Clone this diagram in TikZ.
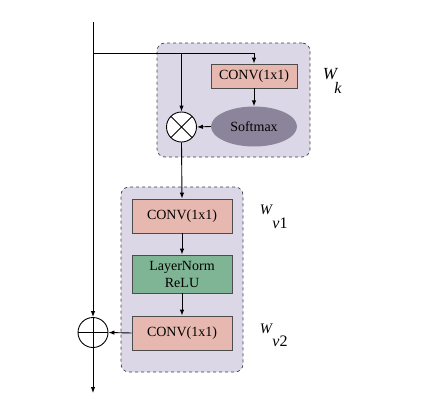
\documentclass[tikz,border=0pt]{standalone}
\usepackage{fontspec}
\setmainfont{Liberation Serif}
\usetikzlibrary{arrows.meta,shapes.geometric}
\definecolor{boxbg}{HTML}{DCD7E6}
\definecolor{convfill}{HTML}{E6B8AF}
\definecolor{normfill}{HTML}{7FB594}
\definecolor{softfill}{HTML}{8C849B}
\tikzset{
  conn/.style={draw=black, line width=0.9pt, -{Latex[length=6pt,width=4.5pt]}},
  plain/.style={draw=black, line width=0.9pt},
  groupbox/.style={draw=black!75, dashed, line width=0.7pt, fill=boxbg, rounded corners=8pt},
  convbox/.style={draw=black!70, line width=0.8pt, fill=convfill, minimum width=86pt, minimum height=24pt, font=\fontsize{14}{16}\selectfont, inner sep=0pt},
  convbig/.style={convbox, minimum width=100pt, minimum height=34pt},
  normbox/.style={draw=black!70, line width=0.8pt, fill=normfill, minimum width=100pt, minimum height=38pt, font=\fontsize{14}{17}\selectfont, align=center, inner sep=0pt},
  softbox/.style={ellipse, fill=softfill, minimum width=86pt, minimum height=40pt, font=\fontsize{14}{16}\selectfont, inner sep=0pt},
  opcirc/.style={circle, draw=black, line width=0.9pt, fill=white, minimum size=30pt, inner sep=0pt},
  wbig/.style={font=\fontsize{17}{17}\selectfont\itshape, inner sep=0pt},
  wsmall/.style={font=\fontsize{14.5}{15}\selectfont\itshape, inner sep=0pt},
  sublab/.style={font=\fontsize{16}{16}\selectfont, inner sep=0pt},
}
\begin{document}
\begin{tikzpicture}[x=1pt,y=-1pt]
\useasboundingbox (0,0) rectangle (421,402);
% group boxes
\node[groupbox, minimum width=153pt, minimum height=114pt, inner sep=0pt] (gk) at (233.5,100) {};
\node[groupbox, minimum width=122pt, minimum height=185pt, inner sep=0pt] (gv) at (182,279.5) {};
% nodes
\node[convbox] (conv0) at (254,76) {CONV(1x1)};
\node[softbox] (soft) at (254,126.5) {Softmax};
\node[opcirc] (mul) at (181.5,127) {};
\draw[black, line width=0.9pt] ([shift={(45:15pt)}]mul.center) -- ([shift={(225:15pt)}]mul.center)
  ([shift={(135:15pt)}]mul.center) -- ([shift={(-45:15pt)}]mul.center);
\node[convbig] (conv1) at (182,216) {CONV(1x1)};
\node[normbox] (norm) at (182,274) {LayerNorm\\ReLU};
\node[convbig] (conv2) at (182,333) {CONV(1x1)};
\node[opcirc] (add) at (93,332.5) {};
\draw[black, line width=0.9pt] (add.north) -- (add.south) (add.west) -- (add.east);
% coordinates
\coordinate (top) at (93,22);
\coordinate (bot) at (93,393);
\coordinate (split) at (93,53);
\coordinate (mid) at (181.5,53);
\coordinate (corner) at (254,53);
% connectors
\draw[plain] (top) -- (split) -- (corner);
\draw[conn] (corner) -- (conv0.north);
\draw[conn] (mid) -- (mul.north);
\draw[conn] (conv0.south) -- (soft.north);
\draw[conn] (soft.west) -- (mul.east);
\draw[conn] (mul.south) -- (conv1.north);
\draw[conn] (conv1.south) -- (norm.north);
\draw[conn] (norm.south) -- (conv2.north);
\draw[conn] (conv2.west) -- (add.east);
\draw[conn] (split) -- (add.north);
\draw[conn] (add.south) -- (bot);
% labels
\node[wbig] (wk) at (330,74) {W};
\node[sublab] (wks) at (338,88) {\itshape k};
\node[wsmall] (wv1) at (266,210) {W};
\node[sublab] (wv1s) at (280,223) {\textit{v}1};
\node[wsmall] (wv2) at (266,329) {W};
\node[sublab] (wv2s) at (280,341) {\textit{v}2};
\end{tikzpicture}
\end{document}
